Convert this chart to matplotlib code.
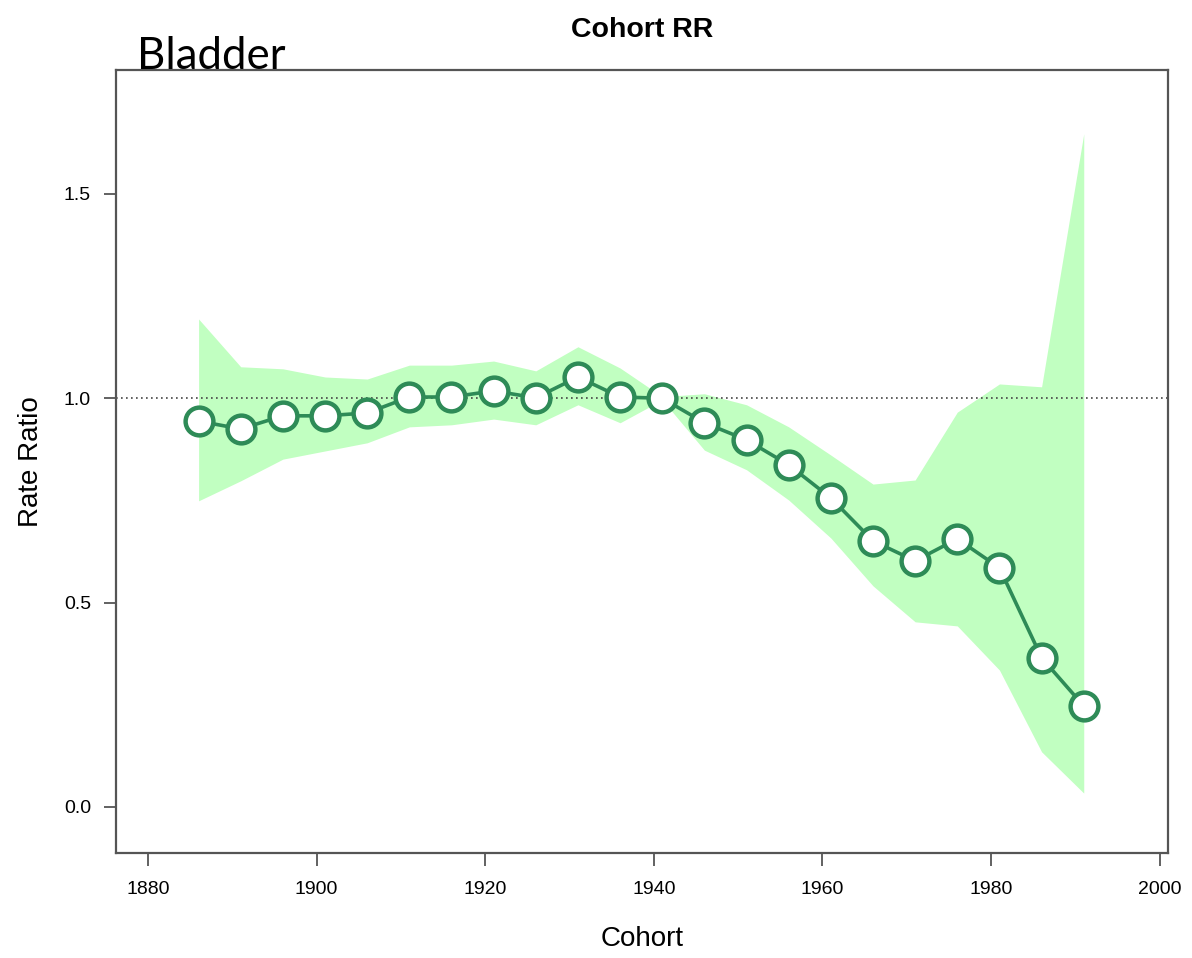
import matplotlib
matplotlib.use("Agg")
import matplotlib.pyplot as plt
import numpy as np

# cohort rate ratios
cohort = np.arange(1886, 1992, 5)
rr = [0.944, 0.925, 0.957, 0.957, 0.964, 1.003, 1.003, 1.018, 1.001, 1.052, 1.003,
      1.000, 0.940, 0.898, 0.837, 0.756, 0.651, 0.602, 0.656, 0.585, 0.365, 0.247]
upper = [1.194, 1.077, 1.072, 1.052, 1.047, 1.081, 1.081, 1.091, 1.067, 1.126, 1.074,
         1.004, 1.011, 0.984, 0.930, 0.861, 0.790, 0.800, 0.966, 1.035, 1.028, 1.647]
lower = [0.749, 0.798, 0.851, 0.871, 0.891, 0.930, 0.935, 0.949, 0.935, 0.984, 0.940,
         0.996, 0.873, 0.825, 0.751, 0.658, 0.541, 0.453, 0.443, 0.335, 0.135, 0.034]
xticks = [1880, 1900, 1920, 1940, 1960, 1980, 2000]
yticks = [0.0, 0.5, 1.0, 1.5]

fig = plt.figure(figsize=(11.92, 9.58), dpi=100)
ax = fig.add_axes([0.0973, 0.1096, 0.8826, 0.8173])

ax.fill_between(cohort, lower, upper, color='#c1ffc1', lw=0, zorder=1)
ax.axhline(1.0, color='#444444', lw=1.2, ls=(0, (1, 2)), zorder=2)
ax.plot(cohort, rr, color='#2e8b57', lw=2.6, marker='o', ms=20,
        mfc='white', mec='#2e8b57', mew=3.2, zorder=3)

ax.set_xlim(1876.2, 2001)
ax.set_ylim(-0.1126, 1.803)
ax.set_xticks(xticks)
ax.set_yticks(yticks)
ax.set_xticklabels([str(x) for x in xticks], family='Liberation Sans')
ax.set_yticklabels([f"{y:.1f}" for y in yticks], family='Liberation Sans')
ax.tick_params(direction='out', length=9, width=1.3, labelsize=14, color='#555555')
ax.tick_params(axis='x', pad=11)
ax.tick_params(axis='y', pad=9)
for s in ax.spines.values():
    s.set_color('#555555')
    s.set_linewidth(1.6)

ax.set_xlabel('Cohort', fontsize=20, family='Liberation Sans', labelpad=20)
ax.set_ylabel('Rate Ratio', fontsize=20, family='Liberation Sans', labelpad=14)
ax.set_title('Cohort RR', fontsize=20.5, fontweight='bold', family='Liberation Sans', pad=24)

fig.text(137 / 1192, 1 - 69 / 958, 'Bladder', fontsize=31.5, family='Lato', ha='left', va='baseline')

plt.savefig('out.png', dpi=100)
